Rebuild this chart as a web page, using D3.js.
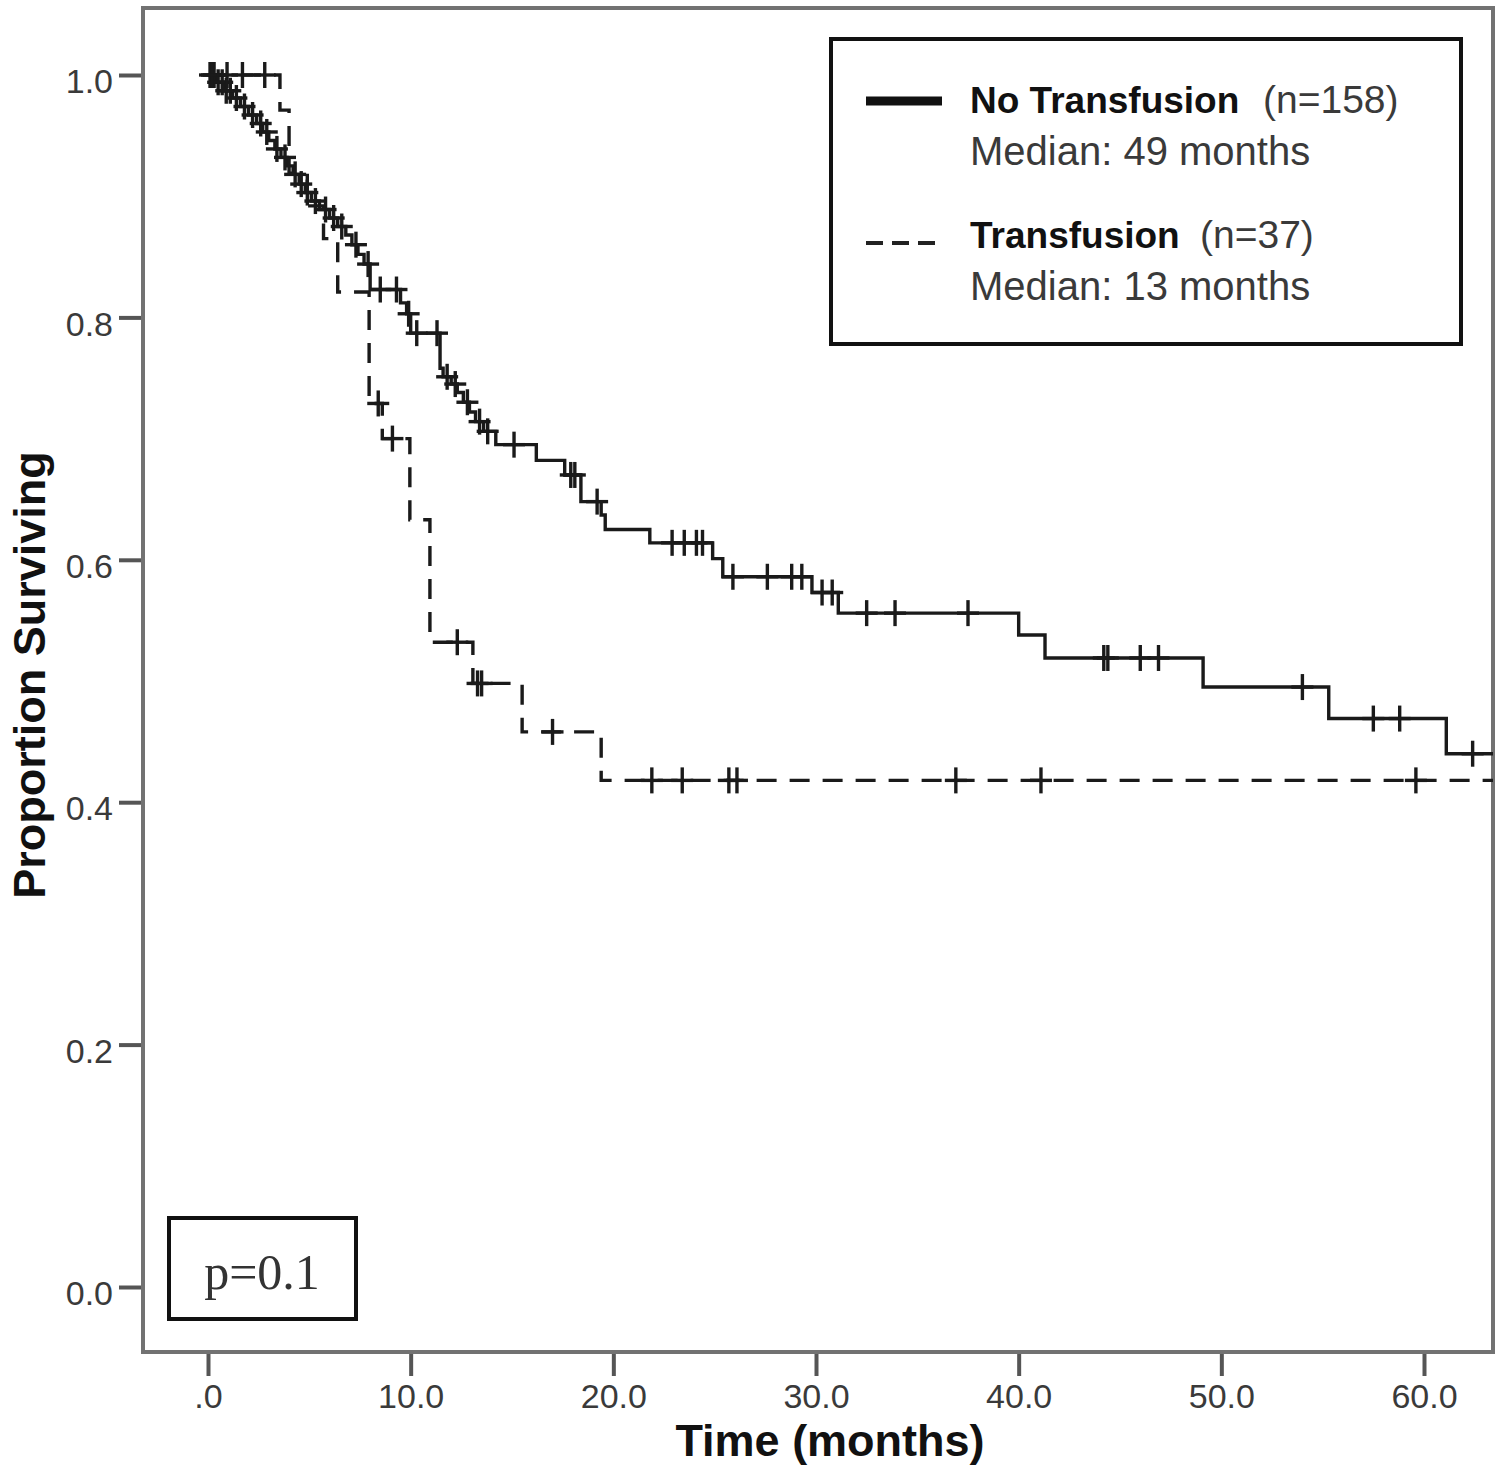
<!doctype html>
<html lang="en">
<head>
<meta charset="UTF-8">
<title>Survival by transfusion</title>
<script src="https://d3js.org/d3.v7.min.js"></script>
<style>
  body { margin: 0; background: #fff; }
  text { font-family: "Liberation Sans", Arial, sans-serif; }
</style>
</head>
<body>
<div id="chart-area"></div>
<script>

// --- data ---
const xTicks = [0, 10, 20, 30, 40, 50, 60];
const xTickLabels = ['.0', '10.0', '20.0', '30.0', '40.0', '50.0', '60.0'];
const yTicks = [0, 0.2, 0.4, 0.6, 0.8, 1.0];
const yTickLabels = ['0.0', '0.2', '0.4', '0.6', '0.8', '1.0'];

// No Transfusion: time where the curve steps down, and the level after it
const noTxTimes = [0, 0.4, 0.8, 1.2, 1.6, 2.0, 2.4, 2.7, 3.0, 3.3, 3.6, 3.9, 4.2, 4.5, 4.8, 5.1, 5.5,
    6.0, 6.4, 6.8, 7.1, 7.4, 7.7, 8.0, 9.5, 9.8, 10.0, 11.45, 11.6, 12.0, 12.3, 12.6, 12.9, 13.2,
    13.6, 14.2, 16.2, 17.6, 18.4, 19.4, 19.6, 21.8, 24.9, 25.4, 29.8, 31.1, 40.0, 41.3, 49.1, 55.3, 61.1];
const noTxSurv = [1.0, 0.994, 0.987, 0.981, 0.974, 0.967, 0.960, 0.953, 0.946, 0.939, 0.932, 0.925,
    0.918, 0.910, 0.903, 0.896, 0.889, 0.882, 0.875, 0.868, 0.860, 0.852, 0.844, 0.823, 0.812, 0.803,
    0.787, 0.758, 0.751, 0.745, 0.738, 0.730, 0.722, 0.714, 0.706, 0.695, 0.682, 0.670, 0.648, 0.637,
    0.625, 0.614, 0.601, 0.586, 0.573, 0.556, 0.538, 0.519, 0.495, 0.469, 0.440];
const noTxCensor = [0.1, 0.3, 0.5, 0.7, 0.9, 1.1, 1.4, 1.8, 2.2, 2.6, 2.9, 3.4, 3.8, 4.3, 4.6, 4.9,
    5.3, 5.8, 6.2, 6.6, 7.3, 7.9, 8.5, 9.3, 9.9, 10.3, 11.3, 11.8, 12.2, 12.8, 13.4, 13.8, 15.1, 17.9,
    18.1, 19.2, 22.9, 23.5, 24.1, 24.4, 25.9, 27.6, 28.8, 29.3, 30.3, 30.8, 32.5, 33.9, 37.5, 44.2,
    44.4, 46.0, 46.9, 54.0, 57.5, 58.8, 62.4];

// Transfusion
const txTimes = [0, 3.55, 4.0, 4.9, 5.7, 6.4, 7.95, 8.6, 9.96, 10.95, 13.07, 15.5, 19.4];
const txSurv = [1.0, 0.971, 0.919, 0.892, 0.865, 0.821, 0.729, 0.700, 0.633, 0.532, 0.498, 0.458, 0.418];
const txCensor = [0.2, 0.94, 1.7, 2.8, 8.4, 9.1, 12.3, 13.3, 13.5, 17.0, 21.9, 23.4, 25.7, 26.1,
    36.9, 41.1, 59.6];

const lastTime = 63.6;

// --- layout ---
const W = 1500, H = 1470;
const frame = { left: 143, top: 8, right: 1493, bottom: 1352 };

const svg = d3.select('#chart-area')
    .append('svg')
    .attr('width', W)
    .attr('height', H);

const x = d3.scaleLinear().domain([0, 60]).range([208, 1424]);
const y = d3.scaleLinear().domain([0, 1]).range([1287, 75]);

svg.append('clipPath')
    .attr('id', 'plot-clip')
    .append('rect')
    .attr('x', frame.left)
    .attr('y', frame.top)
    .attr('width', frame.right - frame.left)
    .attr('height', frame.bottom - frame.top);

// frame
svg.append('rect')
    .attr('x', frame.left)
    .attr('y', frame.top)
    .attr('width', frame.right - frame.left)
    .attr('height', frame.bottom - frame.top)
    .attr('fill', 'none')
    .attr('stroke', '#727272')
    .attr('stroke-width', 4);

// axes
const yAxis = svg.append('g')
    .attr('transform', `translate(${frame.left - 2},0)`)
    .call(d3.axisLeft(y).tickValues(yTicks).tickSize(22).tickPadding(6)
        .tickFormat((d, i) => yTickLabels[i]));

const xAxis = svg.append('g')
    .attr('transform', `translate(0,${frame.bottom + 2})`)
    .call(d3.axisBottom(x).tickValues(xTicks).tickSize(22).tickPadding(6)
        .tickFormat((d, i) => xTickLabels[i]));

[yAxis, xAxis].forEach(a => {
    a.select('.domain').remove();
    a.selectAll('.tick line').attr('stroke', '#555').attr('stroke-width', 4);
    a.selectAll('.tick text')
        .attr('fill', '#3a3a3a')
        .style('font-size', '34px');
});
yAxis.selectAll('.tick text').attr('dy', '0.52em');
xAxis.selectAll('.tick text').attr('dy', '0.76em');

// axis titles
svg.append('text')
    .attr('x', 830)
    .attr('y', 1456)
    .attr('text-anchor', 'middle')
    .attr('fill', '#111')
    .style('font-size', '45px')
    .style('font-weight', 'bold')
    .text('Time (months)');

svg.append('text')
    .attr('transform', `translate(45,${y(0.5) - 6}) rotate(-90)`)
    .attr('text-anchor', 'middle')
    .attr('fill', '#111')
    .style('font-size', '45px')
    .style('font-weight', 'bold')
    .text('Proportion Surviving');

// curves
function stepPoints(times, surv) {
    const pts = times.map((t, i) => [t, surv[i]]);
    pts.push([lastTime, surv[surv.length - 1]]);
    return pts;
}
function survAt(times, surv, t) {
    let s = surv[0];
    times.forEach((tt, i) => { if (tt <= t) s = surv[i]; });
    return s;
}

const line = d3.line()
    .x(d => x(d[0]))
    .y(d => y(d[1]))
    .curve(d3.curveStepAfter);

const plot = svg.append('g').attr('clip-path', 'url(#plot-clip)');

const series = [
    { times: noTxTimes, surv: noTxSurv, censor: noTxCensor, dash: null },
    { times: txTimes, surv: txSurv, censor: txCensor, dash: '20,13' }
];

series.forEach(s => {
    plot.append('path')
        .datum(stepPoints(s.times, s.surv))
        .attr('d', line)
        .attr('fill', 'none')
        .attr('stroke', '#1a1a1a')
        .attr('stroke-width', 3.4)
        .attr('stroke-dasharray', s.dash);

    const marks = plot.append('g')
        .selectAll('g')
        .data(s.censor)
        .join('g')
        .attr('transform', d => `translate(${x(d)},${y(survAt(s.times, s.surv, d))})`);
    marks.append('line')
        .attr('x1', 0).attr('x2', 0).attr('y1', -13).attr('y2', 13)
        .attr('stroke', '#1a1a1a').attr('stroke-width', 3.4);
    marks.append('line')
        .attr('x1', -11).attr('x2', 11).attr('y1', 0).attr('y2', 0)
        .attr('stroke', '#1a1a1a').attr('stroke-width', 3.4);
});

// legend
const legend = svg.append('g');
legend.append('rect')
    .attr('x', 831).attr('y', 39)
    .attr('width', 630).attr('height', 305)
    .attr('fill', '#fff')
    .attr('stroke', '#111')
    .attr('stroke-width', 4);

legend.append('line')
    .attr('x1', 866).attr('x2', 942).attr('y1', 101).attr('y2', 101)
    .attr('stroke', '#111').attr('stroke-width', 9);
legend.append('line')
    .attr('x1', 866).attr('x2', 936).attr('y1', 243).attr('y2', 243)
    .attr('stroke', '#222').attr('stroke-width', 4)
    .attr('stroke-dasharray', '17,9');

const legendRows = [
    { name: 'No Transfusion', n: '(n=158)', median: 'Median: 49 months', y: 113, nx: 1263 },
    { name: 'Transfusion', n: '(n=37)', median: 'Median: 13 months', y: 248, nx: 1200 }
];
legendRows.forEach(r => {
    legend.append('text')
        .attr('x', 970).attr('y', r.y)
        .attr('fill', '#111')
        .style('font-size', '37px').style('font-weight', 'bold')
        .text(r.name);
    legend.append('text')
        .attr('x', r.nx).attr('y', r.y)
        .attr('fill', '#3a3a3a')
        .style('font-size', '39px')
        .text(r.n);
    legend.append('text')
        .attr('x', 970).attr('y', r.y + 52)
        .attr('fill', '#3a3a3a')
        .style('font-size', '40px')
        .text(r.median);
});

// p-value box
svg.append('rect')
    .attr('x', 169).attr('y', 1218)
    .attr('width', 187).attr('height', 101)
    .attr('fill', '#fff')
    .attr('stroke', '#111')
    .attr('stroke-width', 4);
svg.append('text')
    .attr('x', 262).attr('y', 1289)
    .attr('text-anchor', 'middle')
    .attr('fill', '#333')
    .style('font-family', '"Liberation Serif", "Times New Roman", serif')
    .style('font-size', '50px')
    .text('p=0.1');

</script>
</body>
</html>
